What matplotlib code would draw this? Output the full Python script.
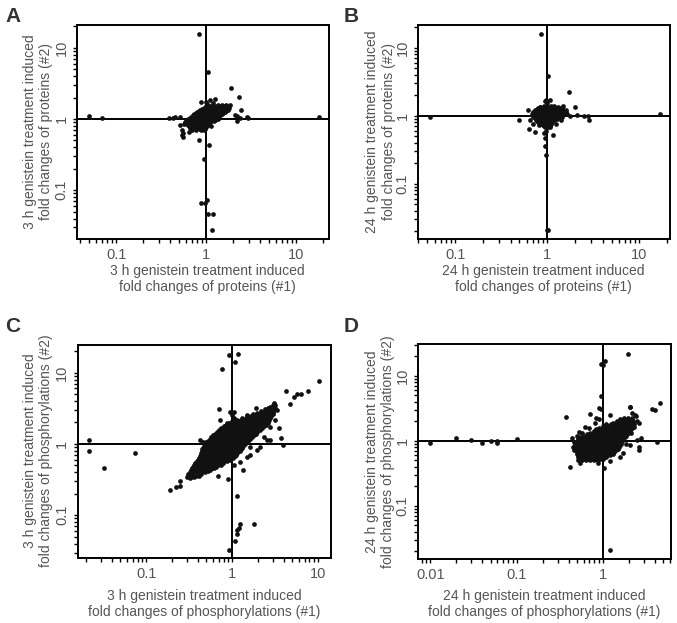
import matplotlib
matplotlib.use('Agg')
import matplotlib.pyplot as plt
from matplotlib.ticker import FixedLocator, LogLocator, NullFormatter

plt.rcParams['font.family'] = ['Liberation Sans', 'DejaVu Sans']

# ---------------- data (fold changes) ----------------
# Panel A: 3 h proteins  -- dense core: (y, [x values]) rows
a_core_rows = [
    (1.55, [1.2, 1.35, 1.5, 1.65]),
    (1.50, [1.0, 1.1, 1.21, 1.33, 1.46, 1.6]),
    (1.45, [0.95, 1.05, 1.15, 1.27, 1.4, 1.55, 1.7]),
    (1.40, [0.9, 0.98, 1.07, 1.17, 1.28, 1.4, 1.54, 1.68]),
    (1.35, [0.85, 0.93, 1.02, 1.12, 1.22, 1.34, 1.47, 1.6, 1.75]),
    (1.30, [0.83, 0.91, 0.99, 1.09, 1.19, 1.3, 1.42, 1.55, 1.68]),
    (1.25, [0.8, 0.88, 0.96, 1.05, 1.15, 1.26, 1.38, 1.5, 1.63]),
    (1.20, [0.77, 0.84, 0.92, 1.01, 1.1, 1.21, 1.32, 1.44, 1.56]),
    (1.16, [0.74, 0.81, 0.89, 0.97, 1.06, 1.16, 1.27, 1.39, 1.5]),
    (1.12, [0.71, 0.78, 0.85, 0.93, 1.02, 1.11, 1.22, 1.33, 1.45]),
    (1.08, [0.68, 0.75, 0.82, 0.9, 0.98, 1.07, 1.17, 1.28, 1.4]),
    (1.04, [0.66, 0.72, 0.79, 0.86, 0.94, 1.03, 1.13, 1.23, 1.34]),
    (1.0, [0.63, 0.69, 0.76, 0.83, 0.91, 1.0, 1.09, 1.19, 1.3]),
    (0.965, [0.61, 0.67, 0.73, 0.8, 0.88, 0.96, 1.05, 1.14, 1.25]),
    (0.93, [0.6, 0.66, 0.72, 0.79, 0.87, 0.95, 1.04, 1.13, 1.22]),
    (0.895, [0.61, 0.67, 0.73, 0.79, 0.86, 0.94, 1.02, 1.11]),
    (0.86, [0.62, 0.68, 0.75, 0.82, 0.9, 0.98, 1.07]),
    (0.83, [0.63, 0.69, 0.76, 0.83, 0.91, 0.99, 1.06]),
    (0.8, [0.64, 0.7, 0.77, 0.85, 0.93, 1.01]),
    (0.77, [0.66, 0.72, 0.8, 0.87, 0.95, 1.01]),
    (0.74, [0.67, 0.74, 0.82, 0.9, 0.98]),
    (0.715, [0.69, 0.77, 0.85, 0.93, 0.98]),
    (0.69, [0.7, 0.78, 0.87, 0.95]),
]
a_points = [
    (0.84, 15.6), (1.04, 4.5), (1.9, 2.7), (2.35, 2.05), (2.43, 1.34), (0.05, 1.11),
    (0.07, 1.02), (18.3, 1.05), (2.84, 1.05), (2.96, 1.04), (2.23, 0.95), (2.1, 1.14),
    (0.39, 1.02), (0.45, 1.05), (0.51, 0.82), (0.54, 0.60), (0.56, 0.56), (0.84, 0.51),
    (1.07, 0.43), (0.95, 0.27), (1.03, 0.074), (0.87, 0.066), (0.97, 0.066), (1.04, 0.046),
    (1.2, 0.046), (1.18, 0.028), (1.0, 1.75), (1.26, 1.89), (0.87, 1.75), (1.1, 1.85),
    (1.02, 1.62), (1.2, 1.66), (0.56, 0.63), (0.54, 0.7), (0.43, 1.02), (2.2, 1.1),
    (2.4, 1.02), (1.67, 1.37), (1.85, 1.57), (0.58, 0.92), (0.63, 0.87), (0.51, 1.08),
    (0.57, 0.85), (1.35, 1.0), (1.45, 1.15), (1.8, 1.45), (0.65, 0.65), (1.15, 0.8),
]

# Panel B: 24 h proteins
b_core_rows = [
    (1.4, [0.92, 1.0, 1.1, 1.2]),
    (1.35, [0.84, 0.92, 1.0, 1.1, 1.2, 1.32]),
    (1.3, [0.8, 0.88, 0.96, 1.05, 1.15, 1.26, 1.38]),
    (1.255, [0.77, 0.84, 0.92, 1.01, 1.1, 1.21, 1.32, 1.44]),
    (1.21, [0.74, 0.81, 0.89, 0.97, 1.06, 1.16, 1.27, 1.39, 1.5]),
    (1.17, [0.73, 0.8, 0.88, 0.96, 1.05, 1.15, 1.26, 1.38, 1.5]),
    (1.13, [0.72, 0.79, 0.87, 0.95, 1.04, 1.14, 1.25, 1.37, 1.5, 1.6]),
    (1.09, [0.72, 0.76, 0.84, 0.92, 1.0, 1.1, 1.2, 1.31, 1.44, 1.55]),
    (1.05, [0.73, 0.8, 0.88, 0.96, 1.05, 1.15, 1.26, 1.38, 1.5]),
    (1.015, [0.72, 0.76, 0.83, 0.91, 1.0, 1.1, 1.2, 1.31, 1.43]),
    (0.98, [0.72, 0.79, 0.87, 0.95, 1.04, 1.14, 1.25, 1.36]),
    (0.945, [0.73, 0.77, 0.85, 0.93, 1.02, 1.12, 1.22, 1.32]),
    (0.91, [0.75, 0.82, 0.9, 0.99, 1.08, 1.18, 1.29]),
    (0.88, [0.76, 0.82, 0.9, 0.99, 1.08, 1.18]),
    (0.85, [0.78, 0.86, 0.94, 1.03, 1.13]),
    (0.82, [0.8, 0.88, 0.97, 1.06, 1.13]),
    (0.79, [0.83, 0.92, 1.01, 1.1]),
    (0.76, [0.86, 0.95, 1.04, 1.1]),
    (0.73, [0.9, 0.99, 1.08]),
    (0.705, [0.92, 1.0, 1.06]),
    (0.68, [0.95, 1.03]),
]
b_points = [
    (0.85, 16.0), (1.01, 3.8), (1.71, 2.25), (2.02, 1.33), (2.1, 1.02), (2.52, 1.0),
    (2.8, 1.0), (2.86, 0.86), (16.7, 1.06), (0.053, 0.97), (0.49, 0.88), (0.64, 0.65),
    (0.74, 0.58), (0.62, 1.2), (1.17, 0.52), (0.95, 0.47), (0.95, 0.36), (0.96, 0.27),
    (0.99, 0.021), (1.03, 0.021), (0.98, 1.7), (1.0, 1.55), (0.79, 1.2), (1.08, 1.7),
    (0.95, 1.65), (1.5, 1.39), (1.64, 1.08), (1.78, 0.99), (0.65, 0.86), (0.71, 0.77),
    (0.81, 0.73), (1.08, 0.69), (1.41, 0.86), (0.84, 1.36), (0.71, 1.13), (0.97, 0.6),
    (0.93, 0.55), (0.68, 1.05), (0.7, 0.95), (1.62, 1.2), (1.45, 0.95), (1.25, 0.75),
]

# Panel C: 3 h phosphorylations
c_core_rows = [
    (0.34, [0.30, 0.33, 0.36]),
    (0.36, [0.315, 0.345, 0.375, 0.41]),
    (0.38, [0.31, 0.345, 0.385, 0.43]),
    (0.405, [0.32, 0.35, 0.39, 0.435, 0.485]),
    (0.43, [0.33, 0.37, 0.41, 0.46, 0.51, 0.56]),
    (0.455, [0.34, 0.38, 0.42, 0.47, 0.52, 0.58, 0.62]),
    (0.48, [0.35, 0.39, 0.43, 0.48, 0.53, 0.59, 0.65]),
    (0.51, [0.36, 0.4, 0.45, 0.5, 0.56, 0.62, 0.68, 0.74]),
    (0.54, [0.37, 0.41, 0.46, 0.51, 0.57, 0.63, 0.7, 0.78]),
    (0.57, [0.385, 0.43, 0.48, 0.53, 0.59, 0.66, 0.73, 0.81, 0.88]),
    (0.6, [0.4, 0.44, 0.49, 0.55, 0.61, 0.68, 0.76, 0.85, 0.95]),
    (0.635, [0.41, 0.46, 0.51, 0.56, 0.62, 0.69, 0.77, 0.85, 0.94, 1.03]),
    (0.67, [0.42, 0.47, 0.52, 0.58, 0.65, 0.72, 0.8, 0.89, 0.99, 1.08]),
    (0.71, [0.43, 0.48, 0.53, 0.59, 0.66, 0.73, 0.81, 0.9, 1.0, 1.1]),
    (0.75, [0.44, 0.49, 0.55, 0.61, 0.68, 0.76, 0.85, 0.94, 1.04, 1.15]),
    (0.795, [0.445, 0.5, 0.55, 0.61, 0.68, 0.76, 0.85, 0.95, 1.05, 1.17, 1.23]),
    (0.84, [0.45, 0.5, 0.56, 0.62, 0.69, 0.77, 0.86, 0.96, 1.07, 1.19, 1.28]),
    (0.89, [0.46, 0.51, 0.57, 0.63, 0.7, 0.78, 0.87, 0.97, 1.08, 1.2, 1.31]),
    (0.94, [0.47, 0.52, 0.58, 0.65, 0.72, 0.8, 0.89, 0.99, 1.1, 1.22, 1.35]),
    (0.995, [0.485, 0.54, 0.6, 0.67, 0.74, 0.83, 0.92, 1.03, 1.14, 1.27, 1.41]),
    (1.05, [0.5, 0.56, 0.62, 0.69, 0.77, 0.86, 0.96, 1.07, 1.19, 1.32, 1.47]),
    (1.115, [0.52, 0.58, 0.65, 0.72, 0.81, 0.9, 1.01, 1.12, 1.25, 1.39, 1.55]),
    (1.18, [0.55, 0.61, 0.68, 0.76, 0.85, 0.95, 1.06, 1.18, 1.31, 1.46, 1.63]),
    (1.25, [0.57, 0.64, 0.71, 0.8, 0.89, 1.0, 1.11, 1.24, 1.38, 1.54, 1.71]),
    (1.32, [0.6, 0.67, 0.75, 0.84, 0.94, 1.05, 1.17, 1.3, 1.45, 1.62, 1.8]),
    (1.4, [0.63, 0.7, 0.79, 0.88, 0.99, 1.1, 1.23, 1.37, 1.52, 1.7, 1.89]),
    (1.48, [0.66, 0.74, 0.83, 0.93, 1.04, 1.16, 1.29, 1.44, 1.6, 1.78, 1.98]),
    (1.57, [0.7, 0.78, 0.88, 0.98, 1.1, 1.23, 1.37, 1.52, 1.7, 1.89, 2.1]),
    (1.66, [0.75, 0.84, 0.94, 1.05, 1.17, 1.3, 1.45, 1.62, 1.8, 2.0, 2.22]),
    (1.76, [0.8, 0.89, 1.0, 1.11, 1.24, 1.38, 1.54, 1.72, 1.92, 2.14, 2.36]),
    (1.86, [0.85, 0.95, 1.06, 1.18, 1.32, 1.47, 1.64, 1.83, 2.04, 2.27, 2.5]),
    (1.97, [0.92, 1.03, 1.15, 1.28, 1.43, 1.6, 1.78, 1.98, 2.21, 2.47, 2.6]),
    (2.08, [1.0, 1.12, 1.25, 1.39, 1.55, 1.73, 1.93, 2.15, 2.4, 2.65]),
    (2.2, [1.15, 1.28, 1.43, 1.6, 1.78, 1.98, 2.21, 2.45, 2.7]),
    (2.33, [1.3, 1.45, 1.62, 1.8, 2.0, 2.23, 2.48, 2.75]),
    (2.46, [1.5, 1.68, 1.87, 2.08, 2.32, 2.58, 2.88]),
    (2.6, [1.75, 1.95, 2.17, 2.42, 2.7, 3.0]),
    (2.75, [1.95, 2.17, 2.42, 2.7, 3.02]),
    (2.9, [2.15, 2.4, 2.68, 3.0]),
    (3.05, [2.4, 2.68, 2.98, 3.15]),
    (3.2, [2.6, 2.9, 3.15]),
    (3.35, [2.8, 3.1]),
    (3.5, [3.0, 3.2]),
]
c_points = [
    (0.93, 17.7), (1.18, 18.1), (1.09, 14.0), (0.76, 11.3), (10.4, 7.7), (4.3, 5.6),
    (7.7, 5.6), (5.66, 5.0), (6.36, 5.0), (5.3, 4.5), (4.8, 3.6), (0.71, 3.1),
    (0.72, 2.17), (3.7, 1.23), (3.96, 0.96), (2.77, 1.14), (2.36, 1.27), (0.69, 0.356),
    (0.9, 0.32), (1.35, 0.43), (1.15, 0.188), (1.24, 0.075), (1.8, 0.075), (1.2, 0.067),
    (1.15, 0.054), (1.15, 0.062), (1.09, 0.043), (0.93, 0.033), (0.19, 0.226), (0.22, 0.247),
    (0.25, 0.26), (0.25, 0.305), (0.0216, 1.14), (0.0216, 0.805), (0.032, 0.456), (0.073, 0.74),
    (3.56, 1.66), (3.0, 3.3), (3.05, 3.5), (1.9, 3.16), (1.05, 2.84), (0.42, 1.14),
    (0.46, 1.08), (1.0, 2.55), (0.95, 2.8), (3.08, 3.7), (3.3, 3.0), (1.62, 0.7),
    (0.53, 0.42), (0.31, 0.355), (0.32, 0.33), (1.62, 0.92), (1.94, 0.82),
    (0.58, 1.27), (0.66, 1.41), (0.87, 1.95), (1.04, 2.29), (1.48, 2.55), (1.48, 0.66),
    (1.24, 0.56), (1.04, 0.51), (2.12, 0.92), (2.54, 1.14), (2.77, 1.75), (3.17, 2.17),
]

# Panel D: 24 h phosphorylations
d_core_rows = [
    (0.5, [0.58, 0.64, 0.71, 0.79, 0.88]),
    (0.53, [0.55, 0.61, 0.67, 0.75, 0.83, 0.93, 1.0]),
    (0.56, [0.52, 0.58, 0.64, 0.71, 0.79, 0.88, 0.98, 1.09]),
    (0.595, [0.51, 0.55, 0.61, 0.67, 0.75, 0.83, 0.92, 1.02, 1.13, 1.22]),
    (0.63, [0.5, 0.56, 0.62, 0.69, 0.77, 0.86, 0.96, 1.07, 1.19, 1.3]),
    (0.67, [0.5, 0.53, 0.59, 0.65, 0.73, 0.81, 0.9, 1.01, 1.12, 1.25, 1.36]),
    (0.71, [0.49, 0.55, 0.61, 0.68, 0.76, 0.85, 0.95, 1.06, 1.18, 1.31, 1.42]),
    (0.755, [0.49, 0.52, 0.58, 0.64, 0.71, 0.8, 0.89, 0.99, 1.11, 1.24, 1.38, 1.5]),
    (0.8, [0.48, 0.54, 0.6, 0.67, 0.75, 0.84, 0.94, 1.05, 1.17, 1.3, 1.45, 1.55]),
    (0.85, [0.48, 0.51, 0.57, 0.64, 0.71, 0.8, 0.89, 0.99, 1.11, 1.24, 1.38, 1.53, 1.6]),
    (0.9, [0.48, 0.54, 0.6, 0.67, 0.75, 0.84, 0.94, 1.05, 1.17, 1.3, 1.45, 1.62]),
    (0.95, [0.49, 0.53, 0.59, 0.65, 0.73, 0.81, 0.91, 1.01, 1.13, 1.26, 1.4, 1.56, 1.64]),
    (1.0, [0.5, 0.56, 0.62, 0.69, 0.77, 0.86, 0.96, 1.07, 1.19, 1.33, 1.48, 1.65]),
    (1.06, [0.52, 0.58, 0.65, 0.72, 0.81, 0.9, 1.01, 1.12, 1.25, 1.4, 1.56, 1.72]),
    (1.12, [0.55, 0.61, 0.68, 0.76, 0.85, 0.95, 1.06, 1.18, 1.32, 1.47, 1.64, 1.8]),
    (1.19, [0.6, 0.65, 0.72, 0.8, 0.9, 1.0, 1.12, 1.25, 1.4, 1.56, 1.75, 1.85]),
    (1.26, [0.65, 0.72, 0.8, 0.89, 0.99, 1.1, 1.23, 1.37, 1.53, 1.7, 1.9]),
    (1.335, [0.71, 0.76, 0.84, 0.94, 1.04, 1.16, 1.3, 1.45, 1.61, 1.8, 1.98]),
    (1.41, [0.78, 0.87, 0.97, 1.08, 1.2, 1.34, 1.49, 1.66, 1.85, 2.05]),
    (1.495, [0.84, 0.92, 1.02, 1.14, 1.27, 1.42, 1.58, 1.76, 1.96, 2.1]),
    (1.58, [0.9, 1.0, 1.12, 1.25, 1.39, 1.55, 1.73, 1.93, 2.15]),
    (1.68, [1.0, 1.05, 1.17, 1.31, 1.46, 1.62, 1.81, 2.02, 2.22]),
    (1.78, [1.1, 1.23, 1.37, 1.53, 1.71, 1.9, 2.12, 2.3]),
    (1.89, [1.3, 1.42, 1.58, 1.76, 1.96, 2.15]),
    (2.0, [1.45, 1.62, 1.8, 2.0, 2.22]),
    (2.12, [1.6, 1.78, 1.98, 2.18]),
    (2.25, [1.75, 1.95, 2.17]),
]
d_points = [
    (1.97, 21.6), (0.94, 15.1), (1.0, 14.6), (1.05, 16.8), (0.94, 4.9), (4.6, 3.85),
    (3.76, 3.04), (4.0, 2.96), (2.06, 3.26), (0.37, 2.34), (0.96, 3.1), (0.84, 2.2),
    (0.9, 2.15), (2.2, 2.7), (2.4, 2.4), (2.5, 2.0), (0.01, 0.91), (0.02, 1.11),
    (0.03, 1.02), (0.04, 0.91), (0.05, 0.99), (0.06, 0.99), (0.06, 0.91), (0.1, 1.06),
    (0.42, 0.39), (1.22, 0.021), (4.2, 0.97), (2.76, 1.11), (2.6, 0.81), (2.05, 0.85),
    (0.71, 2.55), (0.91, 3.15), (2.07, 3.33), (2.37, 2.48), (0.52, 0.5), (0.46, 0.72),
    (0.44, 1.09), (0.53, 1.38), (0.62, 1.64), (0.81, 1.85), (1.22, 2.48), (2.59, 1.85),
    (1.59, 0.57), (1.22, 0.48), (0.87, 0.46), (1.02, 0.38), (2.59, 0.72), (2.48, 1.02),
    (0.45, 0.8), (0.46, 0.95), (0.5, 1.2), (0.58, 1.3), (0.7, 1.55), (1.7, 0.65),
    (1.85, 0.9), (2.1, 1.3), (2.3, 1.6), (0.55, 0.45),
]

# tick labels
a_xticks = [0.1, 1, 10]; a_xticklabels = ['0.1', '1', '10']
a_yticks = [0.1, 1, 10]; a_yticklabels = ['0.1', '1', '10']
b_xticks = [0.1, 1, 10]; b_xticklabels = ['0.1', '1', '10']
b_yticks = [0.1, 1, 10]; b_yticklabels = ['0.1', '1', '10']
c_xticks = [0.1, 1, 10]; c_xticklabels = ['0.1', '1', '10']
c_yticks = [0.1, 1, 10]; c_yticklabels = ['0.1', '1', '10']
d_xticks = [0.01, 0.1, 1]; d_xticklabels = ['0.01', '0.1', '1']
d_yticks = [0.1, 1, 10]; d_yticklabels = ['0.1', '1', '10']

a_xlabel = '3 h genistein treatment induced\nfold changes of proteins (#1)'
a_ylabel = '3 h genistein treatment induced\nfold changes of proteins (#2)'
b_xlabel = '24 h genistein treatment induced\nfold changes of proteins (#1)'
b_ylabel = '24 h genistein treatment induced\nfold changes of proteins (#2)'
c_xlabel = '3 h genistein treatment induced\nfold changes of phosphorylations (#1)'
c_ylabel = '3 h genistein treatment induced\nfold changes of phosphorylations (#2)'
d_xlabel = '24 h genistein treatment induced\nfold changes of phosphorylations (#1)'
d_ylabel = '24 h genistein treatment induced\nfold changes of phosphorylations (#2)'
panel_letters = ['A', 'B', 'C', 'D']

# ---------------- figure ----------------
W, H = 677, 623
fig = plt.figure(figsize=(W / 100, H / 100), dpi=100)
GRAY = '#555555'
LW = 1.4


def flatten(rows, pts):
    xs, ys = [], []
    for y, xl in rows:
        for x in xl:
            xs.append(x)
            ys.append(y)
    for x, y in pts:
        xs.append(x)
        ys.append(y)
    return xs, ys


def make_panel(box, xlim_log, ylim_log, rows, pts, xt, xtl, yt, ytl):
    left, top, right, bottom = box
    ax = fig.add_axes([left / W, 1 - bottom / H, (right - left) / W, (bottom - top) / H])
    ax.set_xscale('log')
    ax.set_yscale('log')
    ax.set_xlim(10 ** xlim_log[0], 10 ** xlim_log[1])
    ax.set_ylim(10 ** ylim_log[0], 10 ** ylim_log[1])
    ax.axhline(1, color='black', lw=LW, zorder=2)
    ax.axvline(1, color='black', lw=LW, zorder=2)
    xs, ys = flatten(rows, pts)
    ax.plot(xs, ys, 'o', ms=3.4, color='#111111', mec='none', zorder=3)
    for axis, ticks in ((ax.xaxis, xt), (ax.yaxis, yt)):
        axis.set_major_locator(FixedLocator(ticks))
        axis.set_minor_locator(LogLocator(base=10, subs=(2, 3, 4, 5, 6, 7, 8, 9), numticks=30))
        axis.set_minor_formatter(NullFormatter())
    ax.set_xticklabels(xtl)
    ax.set_yticklabels(ytl, rotation=90, va='center')
    ax.tick_params(which='both', direction='out', length=3.2, width=1.0, color='black',
                   labelsize=10.5, labelcolor=GRAY, top=False, right=False)
    ax.tick_params(axis='x', which='major', pad=3)
    ax.tick_params(axis='y', which='major', pad=3)
    for s in ax.spines.values():
        s.set_linewidth(LW)
        s.set_color('black')
    return ax


make_panel((77.3, 25, 329.3, 239), (-1.433, 1.373), (-1.685, 1.32),
           a_core_rows, a_points, a_xticks, a_xticklabels, a_yticks, a_yticklabels)
make_panel((418.3, 25, 670, 239), (-1.40, 1.334), (-1.81, 1.334),
           b_core_rows, b_points, b_xticks, b_xticklabels, b_yticks, b_yticklabels)
make_panel((77.7, 344.5, 330.5, 558), (-1.80, 1.148), (-1.60, 1.395),
           c_core_rows, c_points, c_xticks, c_xticklabels, c_yticks, c_yticklabels)
make_panel((418, 344.3, 671, 559), (-2.143, 0.79), (-1.82, 1.483),
           d_core_rows, d_points, d_xticks, d_xticklabels, d_yticks, d_yticklabels)


def ftext(px, py, s, **kw):
    fig.text(px / W, 1 - py / H, s, **kw)


lab = dict(fontsize=10, color=GRAY, ha='center', va='center', linespacing=1.2)
ftext(207, 279, a_xlabel, **lab)
ftext(38.3, 132, a_ylabel, rotation=90, **lab)
ftext(543, 279, b_xlabel, **lab)
ftext(380.5, 132, b_ylabel, rotation=90, **lab)
ftext(204, 604, c_xlabel, **lab)
ftext(37.8, 451, c_ylabel, rotation=90, **lab)
ftext(544, 604, d_xlabel, **lab)
ftext(380.3, 451.5, d_ylabel, rotation=90, **lab)

let = dict(fontsize=15, fontweight='bold', color='#333333', ha='center', va='baseline')
ftext(13.5, 22, panel_letters[0], **let)
ftext(351.5, 22, panel_letters[1], **let)
ftext(12.5, 332, panel_letters[2], **let)
ftext(351.5, 332, panel_letters[3], **let)

fig.savefig('out.png', dpi=100)
